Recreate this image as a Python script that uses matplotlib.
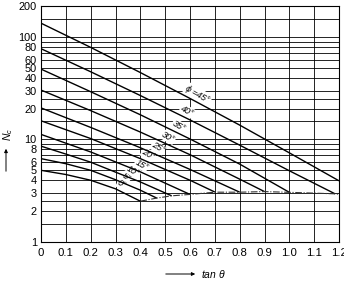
"""
Nc - tan(theta) chart, curves for phi = 0 .. 45 deg
"""

import matplotlib
matplotlib.use('Agg')
import matplotlib.pyplot as plt
import numpy as np

plt.rcParams['font.family'] = ['Liberation Sans', 'DejaVu Sans']
plt.rcParams['mathtext.fontset'] = 'custom'
plt.rcParams['mathtext.it'] = 'Liberation Sans:italic'
plt.rcParams['mathtext.rm'] = 'Liberation Sans'

# ============ data ============
phi_list = [0, 5, 10, 15, 20, 25, 30, 35, 40, 45]

tan_0 = [0, 0.1, 0.2, 0.3, 0.4]
nc_0 = [5.0, 4.55, 4.0, 3.3, 2.5]

tan_5 = [0, 0.1, 0.2, 0.3, 0.4, 0.466]
nc_5 = [6.5, 5.8, 5.0, 4.05, 3.2, 2.68]

tan_10 = [0, 0.1, 0.2, 0.3, 0.4, 0.526]
nc_10 = [8.6, 7.2, 6.0, 4.8, 3.85, 2.82]

tan_15 = [0, 0.2, 0.4, 0.6]
nc_15 = [11.2, 7.55, 4.83, 2.91]

tan_20 = [0, 0.2, 0.4, 0.6, 0.7]
nc_20 = [15.2, 10.2, 6.5, 4.0, 3.07]

tan_25 = [0, 0.2, 0.4, 0.6, 0.8]
nc_25 = [20.3, 13.1, 8.3, 5.1, 3.06]

tan_30 = [0, 0.2, 0.4, 0.6, 0.8, 0.9]
nc_30 = [30.3, 19.1, 11.8, 7.1, 4.1, 3.1]

tan_35 = [0, 0.2, 0.4, 0.6, 0.8, 1.0]
nc_35 = [48.5, 29.2, 17.4, 10.1, 5.75, 3.05]

tan_40 = [0, 0.2, 0.4, 0.6, 0.8, 1.0, 1.184]
nc_40 = [76.7, 45.7, 26.8, 15.5, 8.8, 4.95, 2.95]

tan_45 = [0, 0.2, 0.4, 0.6, 0.8, 1.0, 1.2]
nc_45 = [136, 79, 44.9, 25.1, 13.8, 7.4, 3.95]

# dash-dot limit line through the curve ends
tan_lim = [0.4, 0.466, 0.526, 0.6, 0.7, 0.8, 0.9, 1.0, 1.184, 1.2]
nc_lim = [2.5, 2.68, 2.82, 2.91, 3.06, 3.06, 3.1, 3.05, 2.95, 2.92]

# where the phi labels sit along each curve (tan value)
label_tan = [0.325, 0.345, 0.372, 0.405, 0.432, 0.47, 0.513, 0.555, 0.588, 0.63]

x_ticks = [0, 0.1, 0.2, 0.3, 0.4, 0.5, 0.6, 0.7, 0.8, 0.9, 1.0, 1.1, 1.2]
x_ticklabels = ['0', '0.1', '0.2', '0.3', '0.4', '0.5', '0.6', '0.7', '0.8',
                '0.9', '1.0', '1.1', '1.2']
y_ticks = [1, 2, 3, 4, 5, 6, 8, 10, 20, 30, 40, 50, 60, 80, 100, 200]
y_grid_extra = [1.5, 2.5, 7, 9, 15, 25, 70, 90, 150]

curves = [(tan_0, nc_0), (tan_5, nc_5), (tan_10, nc_10), (tan_15, nc_15),
          (tan_20, nc_20), (tan_25, nc_25), (tan_30, nc_30), (tan_35, nc_35),
          (tan_40, nc_40), (tan_45, nc_45)]

# ============ figure ============
fig = plt.figure(figsize=(3.44, 2.84), dpi=100)
ax = fig.add_axes([41 / 344, 42 / 284, 298 / 344, 236 / 284])

ax.set_yscale('log')
ax.set_xlim(0, 1.2)
ax.set_ylim(1, 200)

ax.set_xticks(x_ticks)
ax.set_xticklabels(x_ticklabels)
ax.set_yticks(y_ticks)
ax.set_yticklabels([str(v) for v in y_ticks])
ax.set_yticks(y_grid_extra, minor=True)
ax.yaxis.set_minor_formatter(matplotlib.ticker.NullFormatter())
ax.tick_params(which='both', length=0, colors='black')
ax.tick_params(axis='x', pad=4, labelsize=8.2)
ax.tick_params(axis='y', pad=3, labelsize=7.9)

ax.grid(True, which='both', color='black', linewidth=0.6)
ax.set_axisbelow(True)
for sp in ax.spines.values():
    sp.set_linewidth(0.8)

# curves
for (tx, nc) in curves:
    ax.plot(tx, nc, color='black', linewidth=1.0, solid_capstyle='butt', zorder=3)

ax.plot(tan_lim, nc_lim, color='#333333', linewidth=0.8,
        linestyle=(0, (6, 1.5, 1, 1.5)), zorder=3)

# phi labels, a little above each curve; white box hides the grid only
for phi, (tx, nc), lt in zip(phi_list, curves, label_tan):
    yv = 10 ** np.interp(lt, tx, np.log10(nc))
    txt = r'$\phi$ =45°' if phi == 45 else f'{phi}°'
    ax.annotate(txt, xy=(lt, yv), xytext=(0, 5.5), textcoords='offset points',
                ha='center', va='center', rotation=-30, fontsize=6.5,
                style='italic', color='black', zorder=2,
                bbox=dict(boxstyle='square,pad=0.05', fc='white', ec='none'))

# axis captions with arrows
fig.text(8 / 344, 1 - 134 / 284, r'$N_c$', rotation=90, ha='center',
         va='center', fontsize=7.5)
fig.add_artist(matplotlib.patches.FancyArrowPatch(
    (6 / 344, 1 - 174 / 284), (6 / 344, 1 - 146 / 284),
    transform=fig.transFigure, arrowstyle='-|>', mutation_scale=5,
    linewidth=0.7, color='black'))

fig.add_artist(matplotlib.patches.FancyArrowPatch(
    (163 / 344, 1 - 274 / 284), (198 / 344, 1 - 274 / 284),
    transform=fig.transFigure, arrowstyle='-|>', mutation_scale=5,
    linewidth=0.7, color='black'))
fig.text(201 / 344, 1 - 274 / 284, r'tan $\theta$', ha='left', va='center',
         fontsize=7.5, style='italic')

fig.savefig('out.png', dpi=100)
